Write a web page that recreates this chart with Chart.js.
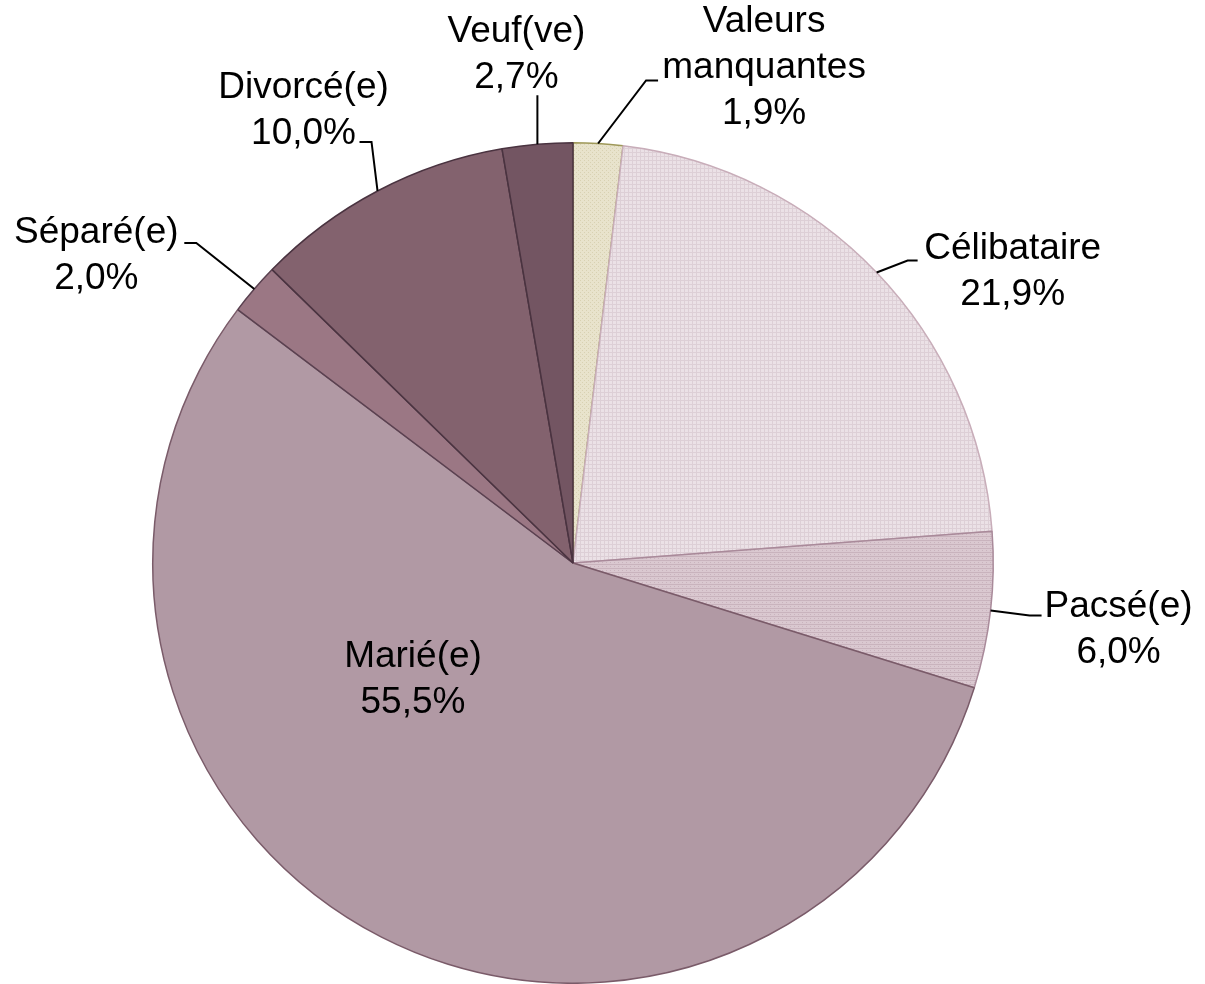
<!DOCTYPE html>
<html>
<head>
<meta charset="utf-8">
<script src="https://cdn.jsdelivr.net/npm/chart.js@4/dist/chart.umd.min.js"></script>
<style>
  html, body { margin: 0; padding: 0; background: #fff; }
  #wrap { width: 1205px; height: 984px; }
</style>
</head>
<body>
<div id="wrap"><canvas id="pie" width="1205" height="984"></canvas></div>
<script>
// data (clockwise from 12 o'clock)
const categories = ['Valeurs manquantes', 'Célibataire', 'Pacsé(e)', 'Marié(e)', 'Séparé(e)', 'Divorcé(e)', 'Veuf(ve)'];
const labelLines = [['Valeurs', 'manquantes'], ['Célibataire'], ['Pacsé(e)'], ['Marié(e)'], ['Séparé(e)'], ['Divorcé(e)'], ['Veuf(ve)']];
const values = [1.9, 21.9, 6.0, 55.5, 2.0, 10.0, 2.7];

// label placement, relative to the point on the rim at the slice middle
// elbow: bend of the leader line, tail: horizontal stub, text: centre of text block
const labelLayout = [
  { elbow: [48, -63], tail: 12, text: [166, -76] },
  { elbow: [31, -12], tail: 10, text: [136, -1] },
  { elbow: [39, 5], tail: 12, text: [128, 19] },
  { inside: [-160, 117] },
  { elbow: [-58, -46], tail: -12, text: [-158, -33] },
  { elbow: [-6, -49], tail: -12, text: [-74, -80] },
  { elbow: [0, -49], tail: 0, text: [-21, -89] }
];

function pattern(base, ink, kind) {
  const c = document.createElement('canvas');
  c.width = 4; c.height = 4;
  const g = c.getContext('2d');
  g.fillStyle = base; g.fillRect(0, 0, 4, 4);
  g.fillStyle = ink;
  if (kind === 'grid') { g.fillRect(0, 0, 4, 1); g.fillRect(0, 0, 1, 4); }
  else if (kind === 'hline') { g.fillRect(0, 0, 4, 1); g.fillRect(2, 2, 1, 1); }
  else { g.fillRect(0, 0, 1, 1); g.fillRect(2, 2, 1, 1); }
  return g.createPattern(c, 'repeat');
}

const fills = [
  pattern('#e8e3cc', '#d8d1b2', 'dots'),
  pattern('#ebe1e6', '#ddcfd6', 'grid'),
  pattern('#dac8d0', '#c9b3bd', 'hline'),
  '#b199a4',
  '#9b7784',
  '#83626e',
  '#735562'
];
const borders = ['#9e9858', '#c8adb9', '#a98a9a', '#7a5b69', '#5a4150', '#4a3340', '#4a3340'];

const FONT = '37px "Liberation Sans", Arial, sans-serif';
const LINE_H = 46;

const pctText = v => v.toFixed(1).replace('.', ',') + '%';

const labelPlugin = {
  id: 'pieLabels',
  afterDraw(chart) {
    const ctx = chart.ctx;
    const arcs = chart.getDatasetMeta(0).data;
    ctx.save();
    ctx.font = FONT;
    ctx.fillStyle = '#000';
    ctx.textAlign = 'center';
    ctx.textBaseline = 'middle';
    arcs.forEach((arc, i) => {
      const lay = labelLayout[i];
      const mid = (arc.startAngle + arc.endAngle) / 2;
      let tx, ty;
      if (lay.inside) {
        tx = arc.x + lay.inside[0];
        ty = arc.y + lay.inside[1];
      } else {
        const ex = arc.x + Math.cos(mid) * arc.outerRadius;
        const ey = arc.y + Math.sin(mid) * arc.outerRadius;
        const bx = ex + lay.elbow[0], by = ey + lay.elbow[1];
        ctx.beginPath();
        ctx.strokeStyle = '#000';
        ctx.lineWidth = 2;
        ctx.moveTo(ex, ey);
        ctx.lineTo(bx, by);
        if (lay.tail) ctx.lineTo(bx + lay.tail, by);
        ctx.stroke();
        tx = ex + lay.text[0];
        ty = ey + lay.text[1];
      }
      const lines = labelLines[i].concat([pctText(values[i])]);
      const top = ty - (lines.length - 1) * LINE_H / 2;
      lines.forEach((s, k) => ctx.fillText(s, tx, top + k * LINE_H));
    });
    ctx.restore();
  }
};

new Chart(document.getElementById('pie'), {
  type: 'pie',
  data: {
    labels: categories,
    datasets: [{
      data: values,
      backgroundColor: fills,
      borderColor: borders,
      borderWidth: 1.5
    }]
  },
  options: {
    responsive: false,
    animation: false,
    layout: { padding: { top: 142, bottom: 0, left: 152, right: 211 } },
    plugins: { legend: { display: false }, tooltip: { enabled: false } }
  },
  plugins: [labelPlugin]
});
</script>
</body>
</html>
